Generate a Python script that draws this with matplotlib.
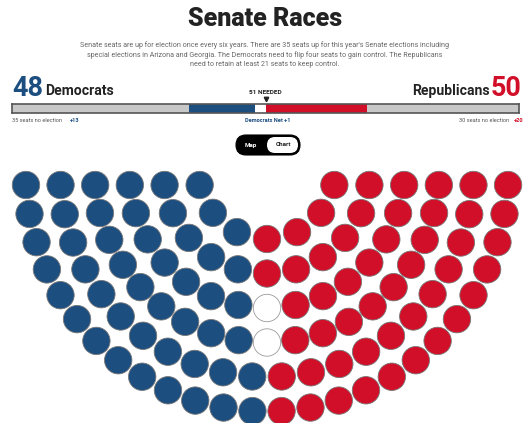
import numpy as np
import matplotlib
matplotlib.use("Agg")
import matplotlib.pyplot as plt
from matplotlib.patches import Circle, FancyBboxPatch

# ---------------- data ----------------
title = "Senate Races"
subtitle = ["Senate seats are up for election once every six years. There are 35 seats up for this year's Senate elections including",
            "special elections in Arizona and Georgia. The Democrats need to flip four seats to gain control. The Republicans",
            "need to retain at least 21 seats to keep control."]
dem_total = 48
rep_total = 50
undecided = 2
ring_seats = [7, 11, 15, 19, 22, 26]
bar_labels = ["Dem no election", "Dem won", "Undecided", "Rep won", "Rep no election"]
bar_values = [35, 13, 2, 20, 30]
needed = 51

BLUE = "#1c4e80"
RED = "#d10f29"
GRAY = "#c8c8c8"
DARK = "#222222"

W, H = 530, 423
fig = plt.figure(figsize=(W / 100, H / 100), dpi=100)
ax = fig.add_axes([0, 0, 1, 1])
ax.set_xlim(0, W)
ax.set_ylim(H, 0)
ax.axis("off")

def px(v):  # pixel font size -> points
    return v * 72 / 100

# ---------------- texts ----------------
ax.text(265, 19, title, ha="center", va="center", fontsize=px(25), fontweight=900,
        family="Roboto", color=DARK)
for i, line in enumerate(subtitle):
    ax.text(265, 45 + i * 10, line, ha="center", va="center", fontsize=px(7.1),
            family="Roboto", color="#666666")

ax.text(12, 88, str(dem_total), ha="left", va="center", fontsize=px(27), fontweight="bold",
        family="Roboto", color=BLUE)
ax.text(45, 91, "Democrats", ha="left", va="center", fontsize=px(14), fontweight="bold",
        family="Roboto", color=DARK)
ax.text(522, 88, str(rep_total), ha="right", va="center", fontsize=px(27), fontweight="bold",
        family="Roboto", color=RED)
ax.text(490, 91, "Republicans", ha="right", va="center", fontsize=px(14), fontweight="bold",
        family="Roboto", color=DARK)

# ---------------- bar ----------------
bx0, bx1, by0, by1 = 12, 519, 104, 113
bax = fig.add_axes([bx0 / W, 1 - by1 / H, (bx1 - bx0) / W, (by1 - by0) / H])
colors = [GRAY, BLUE, "white", RED, GRAY]
left = 0
for v, c in zip(bar_values, colors):
    bax.barh(0, v, left=left, height=1, color=c, edgecolor="none")
    left += v
bax.set_xlim(0, sum(bar_values))
bax.set_ylim(-0.5, 0.5)
bax.set_xticks([])
bax.set_yticks([])
for s in bax.spines.values():
    s.set_color("#555555")
    s.set_linewidth(1.2)

mid_x = bx0 + (bx1 - bx0) * (needed - 1) / sum(bar_values)
ax.text(mid_x, 93, f"{needed} NEEDED", ha="center", va="center", fontsize=px(6.5),
        fontweight="bold", family="Roboto", color=DARK)
ax.plot([mid_x], [99], marker="v", markersize=3.2, color=DARK)

ax.text(12, 121, f"{bar_values[0]} seats no election", ha="left", va="center",
        fontsize=px(5.6), family="Roboto", color="#555555")
ax.text(70, 121, f"+{bar_values[1]}", ha="left", va="center", fontsize=px(5.6),
        fontweight="bold", family="Roboto", color=BLUE)
ax.text(268, 121, "Democrats Net +1", ha="center", va="center", fontsize=px(5.6),
        fontweight="bold", family="Roboto", color=BLUE)
ax.text(523, 121, f"+{bar_values[3]}", ha="right", va="center", fontsize=px(5.6),
        fontweight="bold", family="Roboto", color=RED)
ax.text(509, 121, f"{bar_values[4]} seats no election", ha="right", va="center",
        fontsize=px(5.6), family="Roboto", color="#555555")

# ---------------- toggle ----------------
ax.add_patch(FancyBboxPatch((236, 135), 64, 20, boxstyle="round,pad=0,rounding_size=10",
                            facecolor="black", edgecolor="black", linewidth=0.8, zorder=1))
ax.add_patch(FancyBboxPatch((267, 137), 31, 16, boxstyle="round,pad=0,rounding_size=8",
                            facecolor="white", edgecolor="none", zorder=2))
ax.text(251, 145, "Map", ha="center", va="center", fontsize=px(6.3), fontweight="bold",
        family="Roboto", color="white", zorder=3)
ax.text(283, 145, "Chart", ha="center", va="center", fontsize=px(6.3), fontweight="bold",
        family="Roboto", color=DARK, zorder=3)

# ---------------- hemicycle ----------------
cx, cy = 267, 170
r0, dr = 69, 34.5
seat_r = 13.7
end_off = 15
seats = []
for i, n in enumerate(ring_seats):
    r = r0 + dr * i
    a0 = np.arcsin(end_off / r)
    for j in range(n):
        th = a0 + j * (np.pi - 2 * a0) / (n - 1)
        seats.append((th, r))
seats.sort(key=lambda s: (round(s[0], 9), -s[1]))
fills = [BLUE] * dem_total + ["white"] * undecided + [RED] * rep_total
for (th, r), c in zip(seats, fills):
    x = cx - r * np.cos(th)
    y = cy + r * np.sin(th)
    ec = "#9a9a9a" if c == "white" else "#777777"
    ax.add_patch(Circle((x, y), seat_r, facecolor=c, edgecolor=ec, linewidth=0.6))

fig.savefig("out.png", dpi=100)
